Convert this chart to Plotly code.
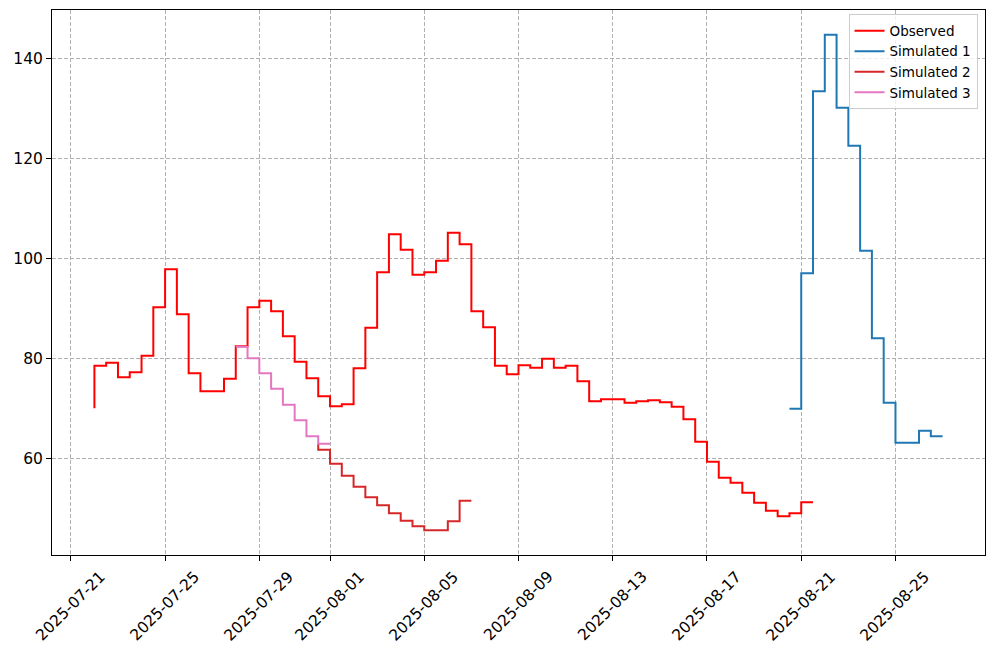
import pandas as pd
import plotly.graph_objects as go

# ---------------- data ----------------
observed_start = "2025-07-22 00:00"
observed_values = [
    70.0, 78.5, 79.1, 76.2, 77.2, 80.5, 90.2, 97.8, 88.8, 77.0,
    73.4, 73.4, 75.9, 82.4, 90.2, 91.5, 89.4, 84.4, 79.3, 76.0,
    72.4, 70.4, 70.8, 78.0, 86.1, 97.2, 104.8, 101.7, 96.7, 97.2,
    99.5, 105.1, 102.8, 89.4, 86.2, 78.5, 76.8, 78.6, 78.1, 79.9,
    78.1, 78.5, 75.4, 71.4, 71.8, 71.8, 71.1, 71.4, 71.6, 71.2,
    70.3, 67.8, 63.3, 59.3, 56.1, 55.1, 53.1, 51.1, 49.5, 48.4,
    49.0, 51.2,
]

sim1_start = "2025-08-20 12:00"
sim1_values = [69.9, 69.9, 97.0, 133.4, 144.7, 130.1, 122.5, 101.5,
               84.0, 71.1, 63.1, 63.1, 65.5, 64.4]

sim2_start = "2025-07-31 12:00"
sim2_values = [62.9, 61.7, 58.9, 56.5, 54.3, 52.2, 50.6, 49.0, 47.5,
               46.4, 45.6, 45.6, 47.4, 51.5]

sim3_start = "2025-07-28 00:00"
sim3_values = [82.3, 82.3, 80.0, 77.0, 73.9, 70.7, 67.6, 64.4, 62.9]

x_tick_labels = ["2025-07-21", "2025-07-25", "2025-07-29", "2025-08-01",
                 "2025-08-05", "2025-08-09", "2025-08-13", "2025-08-17",
                 "2025-08-21", "2025-08-25"]
y_tick_values = [60, 80, 100, 120, 140]

series_names = ["Observed", "Simulated 1", "Simulated 2", "Simulated 3"]
series_colors = ["#ff0000", "#1f77b4", "#d62728", "#e377c2"]


def times(start, n):
    return pd.date_range(start, periods=n, freq="12h")


series = [
    (times(observed_start, len(observed_values)), observed_values),
    (times(sim1_start, len(sim1_values)), sim1_values),
    (times(sim2_start, len(sim2_values)), sim2_values),
    (times(sim3_start, len(sim3_values)), sim3_values),
]

FONT = "DejaVu Sans"
fig = go.Figure()
for (t, v), name, color in zip(series, series_names, series_colors):
    fig.add_trace(go.Scatter(
        x=t, y=v, mode="lines", name=name,
        line=dict(color=color, width=2, shape="vh"),
    ))

# matplotlib-like 5% auto margins
all_t = pd.DatetimeIndex([x for t, _ in series for x in t])
all_v = [y for _, v in series for y in v]
t0, t1 = all_t.min(), all_t.max()
pad_t = (t1 - t0) * 0.05
v0, v1 = min(all_v), max(all_v)
pad_v = (v1 - v0) * 0.05

grid = dict(showgrid=True, gridcolor="#b0b0b0", gridwidth=1, griddash="4px,2px")

fig.update_xaxes(
    type="date", range=[t0 - pad_t, t1 + pad_t],
    tickmode="array", tickvals=x_tick_labels, ticktext=[""] * len(x_tick_labels),
    ticks="outside", ticklen=5, tickwidth=1, tickcolor="black",
    showline=True, linecolor="black", linewidth=1, mirror=True,
    zeroline=False, **grid,
)
fig.update_yaxes(
    range=[v0 - pad_v, v1 + pad_v],
    tickmode="array", tickvals=y_tick_values,
    ticks="outside", ticklen=5, tickwidth=1, tickcolor="black",
    tickfont=dict(family=FONT, size=15.5, color="black"),
    showline=True, linecolor="black", linewidth=1, mirror=True,
    zeroline=False, **grid,
)

for lab in x_tick_labels:
    fig.add_annotation(
        x=lab, y=-0.0944, xref="x", yref="paper",
        text=lab, showarrow=False, textangle=-45,
        xanchor="center", yanchor="middle",
        font=dict(family=FONT, size=15.5, color="black"),
    )

fig.update_layout(
    width=995, height=655,
    margin=dict(l=52, r=10, t=10, b=99.5),
    paper_bgcolor="white", plot_bgcolor="white",
    font=dict(family=FONT, color="black"),
    showlegend=True,
    legend=dict(
        x=0.992, y=0.992, xanchor="right", yanchor="top",
        bgcolor="rgba(255,255,255,0.8)", bordercolor="#cccccc", borderwidth=1,
        font=dict(family=FONT, size=13.5, color="black"),
        tracegroupgap=0, itemwidth=30,
    ),
)

fig.write_html("out.html")
